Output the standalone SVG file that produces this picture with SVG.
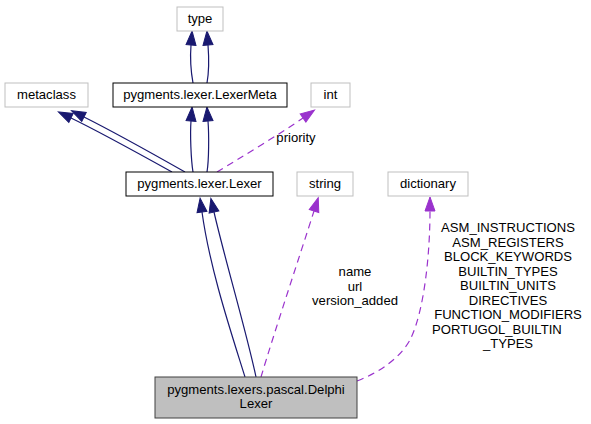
<svg xmlns="http://www.w3.org/2000/svg" width="591" height="424" viewBox="0 0 591 424">
<style>
text{font-family:"Liberation Sans",Arial,sans-serif;font-size:13.1px;fill:#000;text-anchor:middle}
.ext rect{fill:#fff;stroke:#bfbfbf;stroke-width:1}
.doc rect{fill:#fff;stroke:#000;stroke-width:1}
.cur rect{fill:#bfbfbf;stroke:#404040;stroke-width:1}
.inh{fill:none;stroke:#191970;stroke-width:1.2}
.use{fill:none;stroke:#9a32cd;stroke-width:1.2;stroke-dasharray:7,5}
</style>
<defs>
<marker id="ab" markerUnits="userSpaceOnUse" markerWidth="16" markerHeight="12" refX="0" refY="5" orient="auto" overflow="visible"><path d="M0,0 L14,5 L0,10 z" fill="#191970" stroke="#191970"/></marker>
<marker id="ap" markerUnits="userSpaceOnUse" markerWidth="16" markerHeight="12" refX="0" refY="5" orient="auto" overflow="visible"><path d="M0,0 L14,5 L0,10 z" fill="#9a32cd" stroke="#9a32cd"/></marker>
</defs>
<g id="edges">
<path class="inh" marker-end="url(#ab)" d="M193,83 C191,72 190,58 191,45"/>
<path class="inh" marker-end="url(#ab)" d="M207,83 C209,72 209,58 208,45"/>
<path class="inh" marker-end="url(#ab)" d="M172,172 C145,157 100,132 71,118"/>
<path class="inh" marker-end="url(#ab)" d="M185,172 C155,155 112,131 84,117"/>
<path class="inh" marker-end="url(#ab)" d="M193,172 C191,160 190,134 191,121"/>
<path class="inh" marker-end="url(#ab)" d="M207,172 C209,160 209,134 208,121"/>
<path class="use" marker-end="url(#ap)" d="M217,172 C240,158 280,134 303,118"/>
<text x="296" y="142">priority</text>
<path class="inh" marker-end="url(#ab)" d="M245,377 C232,335 210,270 202,212"/>
<path class="inh" marker-end="url(#ab)" d="M256,377 C246,330 225,260 214,212"/>
<path class="use" marker-end="url(#ap)" d="M261,377 C275,330 300,255 314,211"/>
<text x="355" y="276">name</text>
<text x="355" y="290.5">url</text>
<text x="355" y="305">version_added</text>
<path class="use" marker-end="url(#ap)" d="M357,381 C380,372 400,358 410,340 C425,310 430,250 430,211"/>
<text x="508" y="232">ASM_INSTRUCTIONS</text>
<text x="508" y="246.5">ASM_REGISTERS</text>
<text x="508" y="261">BLOCK_KEYWORDS</text>
<text x="508" y="275.5">BUILTIN_TYPES</text>
<text x="508" y="290">BUILTIN_UNITS</text>
<text x="508" y="304.5">DIRECTIVES</text>
<text x="508" y="319">FUNCTION_MODIFIERS</text>
<text x="432" y="333.5" style="text-anchor:start">PORTUGOL_BUILTIN</text>
<text x="508" y="348">_TYPES</text>
</g>
<g id="type" class="ext"><rect x="177" y="7" width="46" height="24"/><text x="200" y="23">type</text></g>
<g id="metaclass" class="ext"><rect x="5" y="83" width="83" height="24"/><text x="46.5" y="99">metaclass</text></g>
<g id="LexerMeta" class="doc"><rect x="113" y="83" width="174" height="24"/><text x="200" y="99">pygments.lexer.LexerMeta</text></g>
<g id="int" class="ext"><rect x="311" y="83" width="39" height="24"/><text x="330.5" y="99">int</text></g>
<g id="Lexer" class="doc"><rect x="126" y="172" width="147" height="24"/><text x="199.5" y="188">pygments.lexer.Lexer</text></g>
<g id="string" class="ext"><rect x="297" y="172" width="56" height="24"/><text x="325" y="188">string</text></g>
<g id="dictionary" class="ext"><rect x="388" y="172" width="80" height="24"/><text x="428" y="188">dictionary</text></g>
<g id="DelphiLexer" class="cur"><rect x="155" y="377" width="202" height="41"/><text x="256" y="394">pygments.lexers.pascal.Delphi</text><text x="256" y="408">Lexer</text></g>
</svg>
